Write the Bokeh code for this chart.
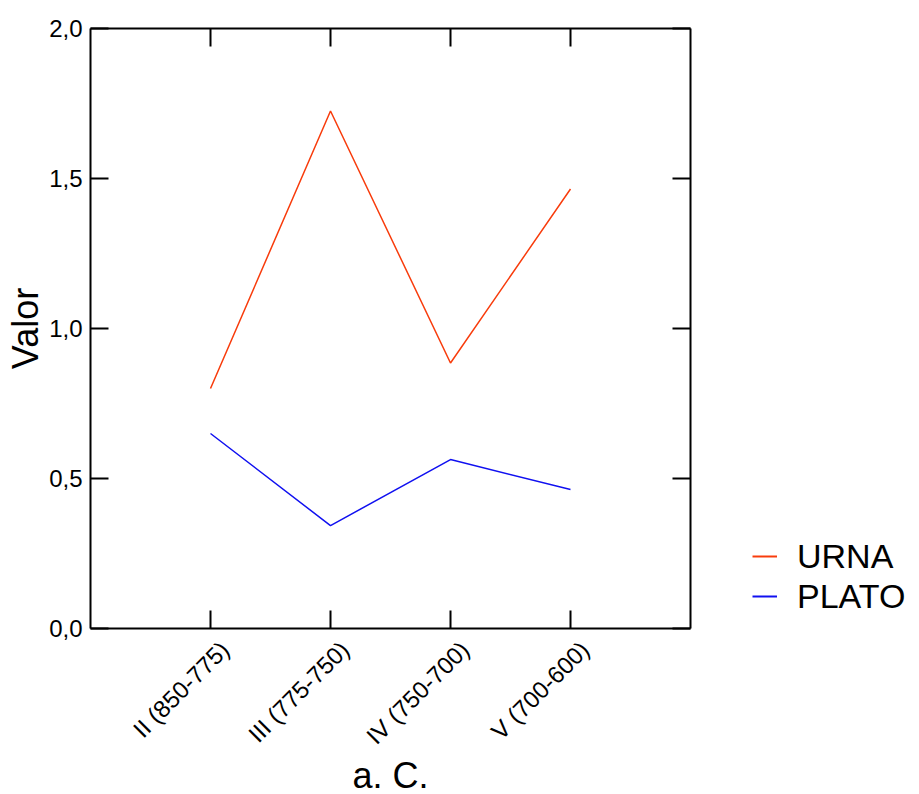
import math
from bokeh.plotting import figure
from bokeh.layouts import row
from bokeh.models import (Range1d, LinearAxis, FixedTicker, CustomJSTickFormatter,
                          Legend, LegendItem)
from bokeh.embed import file_html
from bokeh.resources import INLINE

periods = ["II (850-775)", "III (775-750)", "IV (750-700)", "V (700-600)"]
urna = [0.80, 1.725, 0.885, 1.465]
plato = [0.65, 0.343, 0.563, 0.463]
y_ticks = [0.0, 0.5, 1.0, 1.5, 2.0]
series_names = ["URNA", "PLATO"]
series_colors = ["#f83c0c", "#1010f0"]

FONT = "Liberation Sans"
x_pos = list(range(1, len(periods) + 1))
LABEL_SHIFT = 0.12

p = figure(x_range=Range1d(0, len(periods) + 1), y_range=Range1d(0, 2),
           frame_width=600, frame_height=600,
           min_border_left=90, min_border_top=28, min_border_right=8, min_border_bottom=166,
           output_backend="svg", toolbar_location=None, x_axis_location=None, y_axis_location=None)
p.outline_line_color = None
p.grid.visible = False

p.line(x_pos, urna, line_color=series_colors[0], line_width=1.5)
p.line(x_pos, plato, line_color=series_colors[1], line_width=1.5)

def style(ax, labels):
    ax.axis_line_color = "black"
    ax.axis_line_width = 2
    ax.major_tick_line_color = "black"
    ax.major_tick_line_width = 2
    ax.major_tick_in = 18
    ax.major_tick_out = 0
    ax.minor_tick_line_color = None
    ax.major_label_text_color = "black"
    ax.axis_label_text_color = "black"
    if not labels:
        ax.major_label_text_font_size = "1px"
        ax.major_label_text_alpha = 0
        ax.major_label_standoff = 0
        ax.axis_label = None

yfmt = CustomJSTickFormatter(code="return tick.toFixed(1).replace('.', ',');")

yl = LinearAxis(ticker=FixedTicker(ticks=y_ticks), formatter=yfmt, axis_label="Valor")
style(yl, True)
yl.major_label_text_font = FONT
yl.major_label_text_font_size = "24px"
yl.major_label_standoff = 8
yl.axis_label_text_font = FONT
yl.axis_label_text_font_size = "36px"
yl.axis_label_text_font_style = "normal"
yl.axis_label_standoff = 0
p.add_layout(yl, "left")

yr = LinearAxis(ticker=FixedTicker(ticks=y_ticks), formatter=yfmt)
style(yr, False)
p.add_layout(yr, "right")

# bottom: ticks only
xb = LinearAxis(ticker=FixedTicker(ticks=x_pos))
style(xb, False)
# bottom: rotated category labels
xfmt = CustomJSTickFormatter(args=dict(labels=periods, shift=LABEL_SHIFT),
                             code="return labels[Math.round(tick - shift) - 1];")
xl = LinearAxis(ticker=FixedTicker(ticks=[x + LABEL_SHIFT for x in x_pos]), formatter=xfmt,
                axis_label="a. C.")
xl.axis_line_color = None
xl.major_tick_line_color = None
xl.minor_tick_line_color = None
xl.major_label_text_color = "black"
xl.major_label_text_font = FONT
xl.major_label_text_font_size = "24px"
xl.major_label_orientation = math.pi / 4
xl.major_label_standoff = 11
xl.axis_label_text_color = "black"
xl.axis_label_text_font = FONT
xl.axis_label_text_font_size = "36px"
xl.axis_label_text_font_style = "normal"
xl.axis_label_standoff = -7
p.below = [xb, xl]

xt = LinearAxis(ticker=FixedTicker(ticks=x_pos))
style(xt, False)
p.add_layout(xt, "above")

# legend panel
lf = figure(width=221, height=794, x_range=Range1d(0, 1), y_range=Range1d(0, 1),
            min_border=0, output_backend="svg", toolbar_location=None,
            x_axis_location=None, y_axis_location=None, title=None)
lf.grid.visible = False
lf.outline_line_color = None
items = []
for name, col in zip(series_names, series_colors):
    r = lf.line(x=[float("nan")], y=[float("nan")], line_color=col, line_width=2)
    items.append(LegendItem(label=name, renderers=[r]))
legend = Legend(items=items, location=(54, 8), orientation="vertical",
                glyph_width=25, glyph_height=40, label_height=40, spacing=0,
                label_standoff=20, padding=0, margin=0,
                border_line_color=None, background_fill_alpha=0,
                label_text_font=FONT, label_text_font_size="34px",
                label_text_color="black")
lf.add_layout(legend, "center")

layout = row(p, lf, spacing=0)
open("out.html", "w").write(file_html(layout, INLINE))
